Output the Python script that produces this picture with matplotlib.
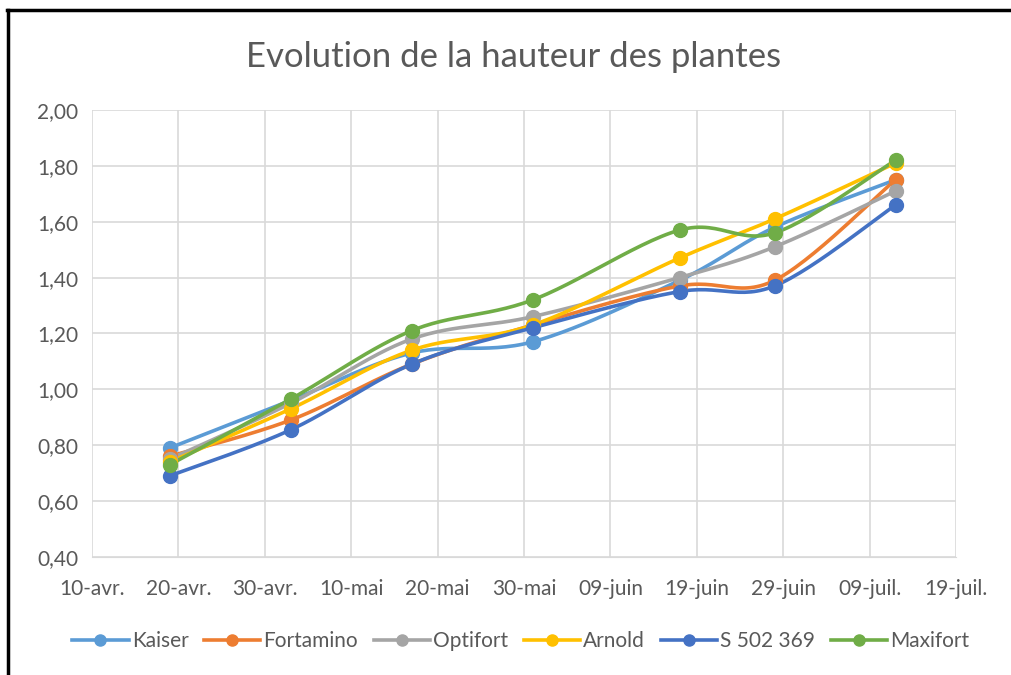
import numpy as np
import matplotlib
matplotlib.use("Agg")
import matplotlib.pyplot as plt
import matplotlib.dates as mdates
from matplotlib.lines import Line2D
from datetime import date, timedelta

plt.rcParams['font.family'] = ['Lato', 'DejaVu Sans']

# dates de mesure
dates = [date(2019, 4, 19), date(2019, 5, 3), date(2019, 5, 17), date(2019, 5, 31),
         date(2019, 6, 17), date(2019, 6, 28), date(2019, 7, 12)]

kaiser = [0.79, 0.96, 1.13, 1.17, 1.39, 1.58, 1.75]
fortamino = [0.76, 0.89, 1.09, 1.23, 1.37, 1.39, 1.75]
optifort = [0.75, 0.95, 1.18, 1.26, 1.40, 1.51, 1.71]
arnold = [0.74, 0.93, 1.14, 1.23, 1.47, 1.61, 1.81]
s502369 = [0.69, 0.855, 1.09, 1.22, 1.35, 1.37, 1.66]
maxifort = [0.73, 0.965, 1.21, 1.32, 1.57, 1.56, 1.82]

series_names = ['Kaiser', 'Fortamino', 'Optifort', 'Arnold', 'S 502 369', 'Maxifort']
series_values = [kaiser, fortamino, optifort, arnold, s502369, maxifort]
colors = ['#5B9BD5', '#ED7D31', '#A5A5A5', '#FFC000', '#4472C4', '#70AD47']

tick_labels = ['10-avr.', '20-avr.', '30-avr.', '10-mai', '20-mai', '30-mai',
               '09-juin', '19-juin', '29-juin', '09-juil.', '19-juil.']
y_ticks = [0.40, 0.60, 0.80, 1.00, 1.20, 1.40, 1.60, 1.80, 2.00]


def smooth(x, y, n=30):
    """Lissage façon Excel (Bezier avec points de controle a 1/6)."""
    x = np.asarray(x, float)
    y = np.asarray(y, float)
    px = np.concatenate([[x[0]], x, [x[-1]]])
    py = np.concatenate([[y[0]], y, [y[-1]]])
    out_x, out_y = [], []
    t = np.linspace(0, 1, n)
    for i in range(1, len(px) - 2):
        p0 = np.array([px[i], py[i]])
        p3 = np.array([px[i + 1], py[i + 1]])
        c1 = p0 + (np.array([px[i + 1], py[i + 1]]) - np.array([px[i - 1], py[i - 1]])) / 6
        c2 = p3 - (np.array([px[i + 2], py[i + 2]]) - np.array([px[i], py[i]])) / 6
        b = ((1 - t) ** 3)[:, None] * p0 + (3 * (1 - t) ** 2 * t)[:, None] * c1 \
            + (3 * (1 - t) * t ** 2)[:, None] * c2 + (t ** 3)[:, None] * p3
        out_x.extend(b[:, 0])
        out_y.extend(b[:, 1])
    return np.array(out_x), np.array(out_y)


fig = plt.figure(figsize=(10.11, 6.75), dpi=100)
ax = fig.add_axes([0.091, 0.175, 0.8546, 0.662])

xnum = mdates.date2num(dates)
for name, vals, col in zip(series_names, series_values, colors):
    sx, sy = smooth(xnum, vals)
    ax.plot(sx, sy, color=col, lw=2.6, solid_capstyle='round', zorder=3)
    ax.plot(xnum, vals, 'o', color=col, ms=10, zorder=4)

start = date(2019, 4, 10)
ticks = [mdates.date2num(start + timedelta(days=10 * i)) for i in range(len(tick_labels))]
ax.set_xlim(ticks[0], ticks[-1])
ax.set_xticks(ticks)
ax.set_xticklabels(tick_labels)
ax.set_ylim(0.40, 2.00)
ax.set_yticks(y_ticks)
ax.set_yticklabels([f'{v:.2f}'.replace('.', ',') for v in y_ticks])

ax.grid(True, color='#D9D9D9', lw=1.2)
ax.set_axisbelow(True)
for s in ['top', 'right', 'left']:
    ax.spines[s].set_visible(False)
ax.spines['bottom'].set_color('#D9D9D9')
ax.tick_params(length=0, labelsize=15, colors='#595959')
ax.tick_params(axis='x', pad=16)
ax.tick_params(axis='y', pad=10)

fig.text(0.508, 0.915, 'Evolution de la hauteur des plantes', ha='center', va='center',
         fontsize=25, color='#595959')

handles = [Line2D([], [], color=c, lw=2.6, marker='o', ms=8) for c in colors]
fig.legend(handles, series_names, loc='center', bbox_to_anchor=(0.515, 0.05), ncol=6,
           frameon=False, fontsize=15, labelcolor='#595959', handlelength=2.7,
           handletextpad=0.15, columnspacing=0.75)

# cadre noir (haut et gauche)
fig.add_artist(Line2D([0.007, 1.0], [0.985, 0.985], color='black', lw=2.5,
                      transform=fig.transFigure))
fig.add_artist(Line2D([0.008, 0.008], [0.0, 0.985], color='black', lw=2.5,
                      transform=fig.transFigure))

fig.savefig('out.png', dpi=100)
